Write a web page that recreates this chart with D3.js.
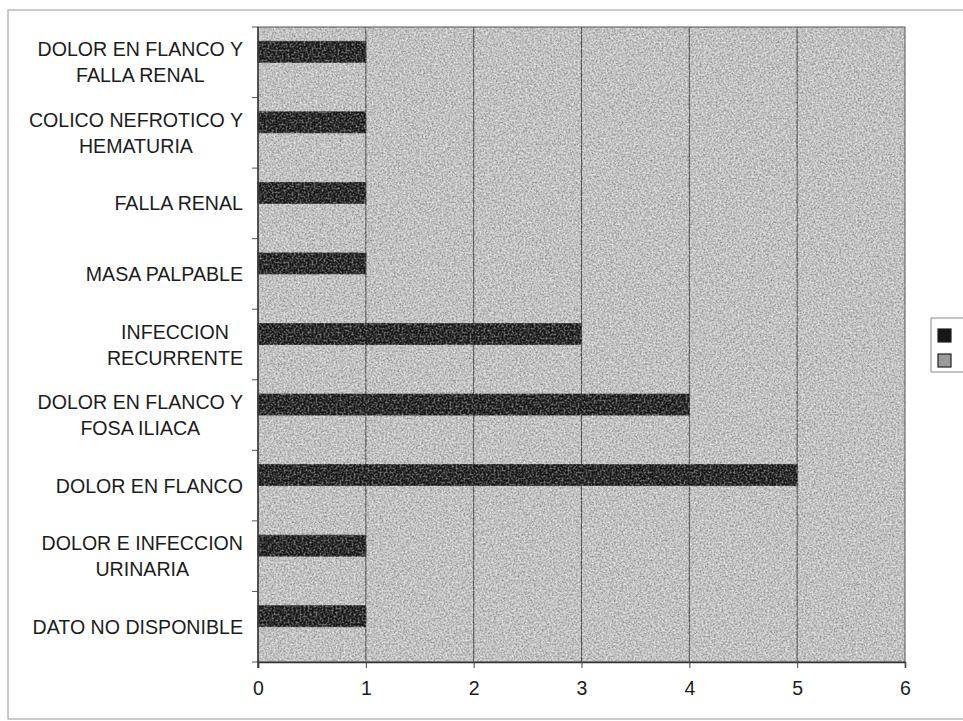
<!DOCTYPE html>
<html>
<head>
<meta charset="utf-8">
<script src="https://cdn.jsdelivr.net/npm/d3@7"></script>
<style>
  html, body { margin: 0; padding: 0; background: #ffffff; }
  svg { display: block; }
  text { font-family: "Liberation Sans", Arial, sans-serif; fill: #1c1c1c; }
</style>
</head>
<body>
<svg id="chart" width="963" height="721"></svg>
<script>
// Categories, top to bottom; "\n" marks a line break in the label
const categories = [
  "DOLOR EN FLANCO Y\nFALLA RENAL",
  "COLICO NEFROTICO Y\nHEMATURIA",
  "FALLA RENAL",
  "MASA PALPABLE",
  "INFECCION\nRECURRENTE",
  "DOLOR EN FLANCO Y\nFOSA ILIACA",
  "DOLOR EN FLANCO",
  "DOLOR E INFECCION\nURINARIA",
  "DATO NO DISPONIBLE"
];
// Number of cases per category (first series) and the empty second series
const seriesA = [1, 1, 1, 1, 3, 4, 5, 1, 1];
const seriesB = [0, 0, 0, 0, 0, 0, 0, 0, 0];
const seriesNames = ["A", "B"];
const xTicks = [0, 1, 2, 3, 4, 5, 6];

const svg = d3.select("#chart");
const plot = { left: 258, right: 905, top: 27, bottom: 662 };

// Grain filters for the plot fill and the bars
const defs = svg.append("defs");
function grainFilter(id, freq, seed, rgb, slope, offset, blur) {
  const f = defs.append("filter").attr("id", id)
    .attr("filterUnits", "userSpaceOnUse")
    .attr("x", plot.left).attr("y", plot.top)
    .attr("width", plot.right - plot.left).attr("height", plot.bottom - plot.top);
  f.append("feTurbulence").attr("type", "fractalNoise")
    .attr("baseFrequency", freq).attr("numOctaves", 3).attr("seed", seed).attr("result", "n");
  f.append("feColorMatrix").attr("in", "n").attr("type", "matrix")
    .attr("values", `0 0 0 0 ${rgb}  0 0 0 0 ${rgb}  0 0 0 0 ${rgb}  ${slope} 0 0 0 ${offset}`)
    .attr("result", "m");
  f.append("feGaussianBlur").attr("in", "m").attr("stdDeviation", blur);
}
grainFilter("grainDark", 0.55, 7, 0, 2.2, -0.85, 0.45);
grainFilter("grainLight", 0.5, 19, 1, 2.2, -0.9, 0.45);

// Outer chart frame
svg.append("rect")
  .attr("x", 8).attr("y", 10).attr("width", 970).attr("height", 709)
  .attr("fill", "none").attr("stroke", "#a8a8a8").attr("stroke-width", 1.2);

// Scales
const x = d3.scaleLinear().domain([0, 6]).range([plot.left, plot.right]);
const y = d3.scaleBand().domain(categories).range([plot.top, plot.bottom]).padding(0);
const ySub = d3.scaleBand().domain(seriesNames).range([0, y.bandwidth()])
  .paddingInner(0).paddingOuter(0.68);

// Plot area background
const plotRect = sel => sel
  .attr("x", plot.left).attr("y", plot.top)
  .attr("width", plot.right - plot.left).attr("height", plot.bottom - plot.top);
svg.append("rect").call(plotRect).attr("fill", "#c2c2c2");
svg.append("rect").call(plotRect).attr("fill", "#000")
  .attr("filter", "url(#grainDark)").attr("opacity", 0.28);
svg.append("rect").call(plotRect).attr("fill", "#fff")
  .attr("filter", "url(#grainLight)").attr("opacity", 0.3);

// Vertical gridlines
svg.append("g")
  .selectAll("line")
  .data(xTicks.slice(1, -1))
  .join("line")
  .attr("x1", d => x(d)).attr("x2", d => x(d))
  .attr("y1", plot.top).attr("y2", plot.bottom)
  .attr("stroke", "#3e3e3e").attr("stroke-width", 1);

// Bars
const rows = categories.map((c, i) => ({ c, values: [seriesA[i], seriesB[i]] }));
const barColors = ["#161616", "#9a9a9a"];
const groups = svg.append("g").selectAll("g")
  .data(rows).join("g")
  .attr("transform", d => `translate(0,${y(d.c)})`);
groups.selectAll("rect")
  .data(d => d.values.map((v, k) => ({ k, v })).filter(e => e.v > 0))
  .join("rect")
  .attr("x", x(0))
  .attr("y", e => ySub(seriesNames[e.k]))
  .attr("width", e => x(e.v) - x(0))
  .attr("height", ySub.bandwidth())
  .attr("fill", e => barColors[e.k])
  .attr("stroke", "#222").attr("stroke-width", 0.8);

// Faint speckle on the bars
svg.append("g").selectAll("rect")
  .data(rows.filter(d => d.values[0] > 0))
  .join("rect")
  .attr("x", x(0))
  .attr("y", d => y(d.c) + ySub(seriesNames[0]))
  .attr("width", d => x(d.values[0]) - x(0))
  .attr("height", ySub.bandwidth())
  .attr("fill", "#fff").attr("filter", "url(#grainLight)").attr("opacity", 0.07);

// Plot border
svg.append("rect").call(plotRect)
  .attr("fill", "none").attr("stroke", "#555").attr("stroke-width", 1);

// X axis
const xAxis = svg.append("g")
  .attr("transform", `translate(0,${plot.bottom})`)
  .call(d3.axisBottom(x).tickValues(xTicks).tickSize(6).tickPadding(13).tickFormat(d3.format("d")));
xAxis.select(".domain").attr("stroke", "#333").attr("stroke-width", 1.6);
xAxis.selectAll(".tick line").attr("stroke", "#444");
xAxis.selectAll(".tick text")
  .attr("font-size", 19.5).attr("fill", "#1c1c1c")
  .style("font-family", "'Liberation Sans', Arial, sans-serif");

// Y axis: tick marks at category boundaries
const bounds = categories.map(c => y(c)).concat([plot.bottom]);
svg.append("g").selectAll("line")
  .data(bounds)
  .join("line")
  .attr("x1", plot.left - 6).attr("x2", plot.left)
  .attr("y1", d => d).attr("y2", d => d)
  .attr("stroke", "#555");
svg.append("line")
  .attr("x1", plot.left).attr("x2", plot.left)
  .attr("y1", plot.top).attr("y2", plot.bottom + 6)
  .attr("stroke", "#333").attr("stroke-width", 1.4);

// Category labels: lines centred on each other, block right-aligned
const labelRight = 243;
const lineH = 26;
const labels = svg.append("g").selectAll("g")
  .data(categories).join("g");
labels.each(function (c) {
  const g = d3.select(this);
  const lines = c.split("\n");
  const cy = y(c) + y.bandwidth() / 2;
  const t = g.selectAll("text").data(lines).join("text")
    .attr("font-size", 19.6)
    .attr("text-anchor", "middle")
    .attr("dominant-baseline", "central")
    .attr("y", (d, i) => cy + (i - (lines.length - 1) / 2) * lineH)
    .text(d => d);
  let maxW = 0;
  t.each(function () { maxW = Math.max(maxW, this.getComputedTextLength()); });
  t.attr("x", labelRight - maxW / 2);
});

// Legend
const legend = svg.append("g");
legend.append("rect")
  .attr("x", 931).attr("y", 318).attr("width", 40).attr("height", 54)
  .attr("fill", "#fff").attr("stroke", "#8a8a8a").attr("stroke-width", 1);
legend.selectAll("rect.key")
  .data(seriesNames).join("rect")
  .attr("class", "key")
  .attr("x", 938).attr("y", (d, i) => 329 + i * 25)
  .attr("width", 13).attr("height", 13)
  .attr("fill", (d, i) => barColors[i])
  .attr("stroke", "#222").attr("stroke-width", 1.2);
</script>
</body>
</html>
